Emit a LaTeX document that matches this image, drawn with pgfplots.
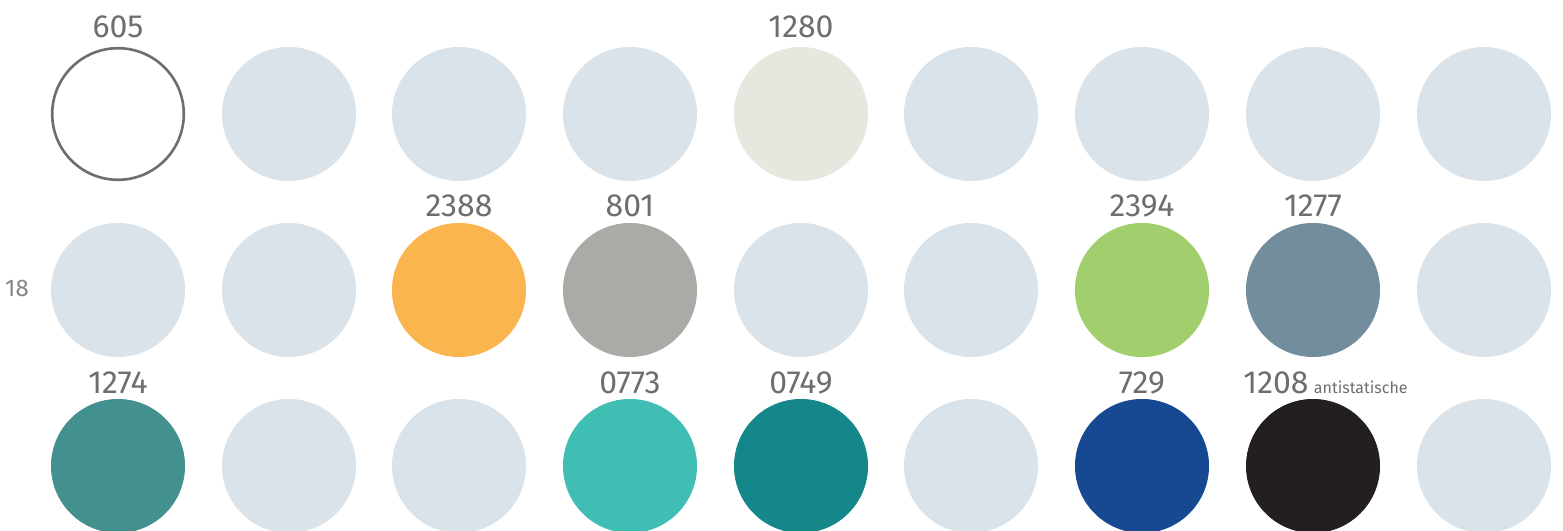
\documentclass[border=0pt]{standalone}
\usepackage{pgfplots}
\pgfplotsset{compat=1.18}
\usepackage{pgfplotstable}
\usepackage{fontspec}
\setmainfont{Fira Sans}
\definecolor{swlight}{HTML}{DBE3EA}
\definecolor{sw1280}{HTML}{E6E8DF}
\definecolor{sw2388}{HTML}{FAB54E}
\definecolor{sw801}{HTML}{AAABA6}
\definecolor{sw2394}{HTML}{A2CF6D}
\definecolor{sw1277}{HTML}{728E9C}
\definecolor{sw1274}{HTML}{43918F}
\definecolor{sw0773}{HTML}{41BEB4}
\definecolor{sw0749}{HTML}{15878A}
\definecolor{sw729}{HTML}{174892}
\definecolor{sw1208}{HTML}{231F20}
\definecolor{txtgray}{HTML}{6D6E71}
\definecolor{pagegray}{HTML}{858585}
\pgfplotstableread{
x y
289 114
459 114
630 114
971 114
1142 114
1313 114
1484 114
118 290
289 290
801 290
971 290
1484 290
289 466
459 466
971 466
1484 466
}\lighttab
\pgfplotstableread{
x y label
118 37 605
801 37 1280
459 216 2388
630 216 801
1142 216 2394
1313 216 1277
118 393 1274
630 393 0773
801 393 0749
1142 393 729
}\labeltab
\begin{document}
\begin{tikzpicture}
\begin{axis}[
  width=781.5pt, height=265pt, scale only axis,
  xmin=0, xmax=1563, ymin=0, ymax=530, y dir=reverse,
  hide axis, clip mode=global,
  every axis plot/.append style={only marks, mark=*, mark size=33.3pt, line width=0.4pt},
]
\addplot[color=swlight] table {\lighttab};
\addplot[color=txtgray, mark options={fill=white, line width=1.3pt}, mark size=32.9pt] coordinates {(118,114)};
\addplot[color=sw1280] coordinates {(801,114)};
\addplot[color=sw2388] coordinates {(459,290)};
\addplot[color=sw801] coordinates {(630,290)};
\addplot[color=sw2394] coordinates {(1142,290)};
\addplot[color=sw1277] coordinates {(1313,290)};
\addplot[color=sw1274] coordinates {(118,466)};
\addplot[color=sw0773] coordinates {(630,466)};
\addplot[color=sw0749] coordinates {(801,466)};
\addplot[color=sw729] coordinates {(1142,466)};
\addplot[color=sw1208] coordinates {(1313,466)};
\addplot[mark=none, nodes near coords, point meta=explicit symbolic,
  every node near coord/.style={anchor=base, inner sep=0pt, text=txtgray,
  font=\fontsize{16pt}{16pt}\selectfont}]
  table[meta=label] {\labeltab};
\node[anchor=base west, inner sep=0pt, text=txtgray] at (axis cs:1243,393)
  {\fontsize{16pt}{16pt}\selectfont 1208\,\fontsize{8pt}{8pt}\selectfont antistatische};
\node[anchor=base, inner sep=0pt, text=pagegray] at (axis cs:17,296)
  {\fontsize{12pt}{12pt}\selectfont 18};
\end{axis}
\pgfresetboundingbox
\useasboundingbox (current axis.south west) rectangle (current axis.north east);
\end{tikzpicture}
\end{document}
